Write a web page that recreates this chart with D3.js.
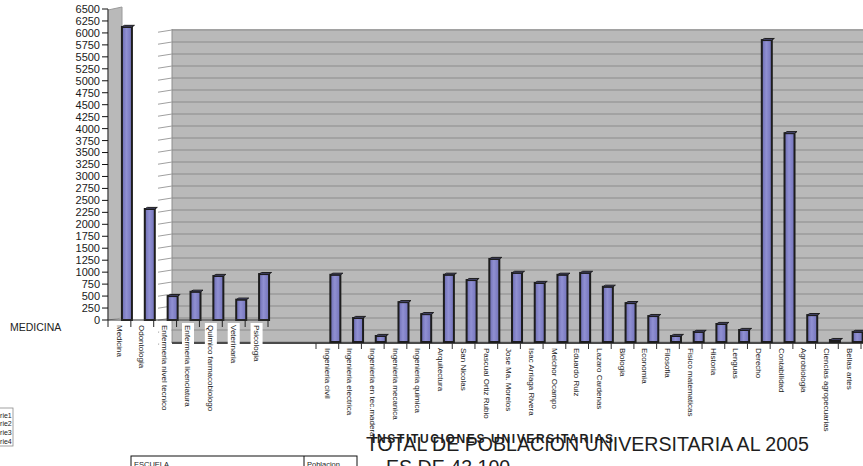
<!DOCTYPE html>
<html>
<head>
<meta charset="utf-8">
<script src="https://cdn.jsdelivr.net/npm/d3@7"></script>
<style>
  body { margin: 0; background: #fff; overflow: hidden; }
  svg { display: block; }
  text { font-family: "Liberation Sans", Arial, sans-serif; }
</style>
</head>
<body>
<svg id="chart" width="863" height="466"></svg>
<script>
// ---- data ----
const groupLabel = "MEDICINA";
const medCategories = ["Medicina", "Odontologia", "Enfermeria nivel tecnico", "Enfermeria licenciatura",
  "Quimico farmacobiologo", "Veterinaria", "Psicologia"];
const medValues = [6125, 2320, 500, 590, 920, 425, 960];

const uniCategories = ["Ingenieria civil", "Ingenieria electrica", "Ingenieria en tec.madera", "Ingenieria mecanica",
  "Ingenieria quimica", "Arquitectura", "San Nicolas", "Pascual Ortiz Rubio", "Jose Ma. Morelos",
  "Isac Arriaga Rivera", "Melchor Ocampo", "Eduardo Ruiz", "Lazaro Cardenas", "Biologia", "Economia",
  "Filosofia", "Fisico matematicas", "Historia", "Lenguas", "Derecho", "Contabilidad", "Agrobiologia",
  "Ciencias agropecuarias", "Bellas artes"];
const uniValues = [1400, 500, 125, 830, 580, 1400, 1290, 1730, 1440, 1230, 1400, 1440, 1150, 810, 540,
  125, 210, 375, 250, 6290, 4350, 560, 40, 210];

const valueTicks = [0, 250, 500, 750, 1000, 1250, 1500, 1750, 2000, 2250, 2500, 2750, 3000, 3250, 3500,
  3750, 4000, 4250, 4500, 4750, 5000, 5250, 5500, 5750, 6000, 6250, 6500];
const legendLabels = ["Serie1", "Serie2", "Serie3", "Serie4"];
const tableHeaders = ["ESCUELA", "Poblacion"];
const titleText = "TOTAL DE POBLACION UNIVERSITARIA AL 2005";
const overlayTitle = "INSTITUCIONES UNIVERSITARIAS";
const subtitleText = "ES DE 43,100";

// ---- setup ----
const svg = d3.select("#chart");
const yMed = d3.scaleLinear().domain([0, 6500]).range([320, 9]);
const yUni = d3.scaleLinear().domain([0, 6500]).range([342, 30]);
const xMed = d3.scaleBand().domain(medCategories).range([108, 268]);
const xUni = d3.scaleBand().domain(uniCategories).range([316, 861]);

const wallFill = "#b9b9b9";
const gridColor = "#8c8c8c";
const barStroke = "#1d1d1d";

const defs = svg.append("defs");
const grad = defs.append("linearGradient").attr("id", "barFill")
  .attr("x1", "0").attr("x2", "1").attr("y1", "0").attr("y2", "0");
grad.append("stop").attr("offset", "0%").attr("stop-color", "#6c6cb2");
grad.append("stop").attr("offset", "45%").attr("stop-color", "#9090d2");
grad.append("stop").attr("offset", "100%").attr("stop-color", "#7272ba");

// ---- back wall of the university chart ----
const wallTop = yUni(6500) - 1, wallBottom = yUni(0) + 1;
svg.append("rect")
  .attr("x", 172).attr("y", wallTop)
  .attr("width", 863 - 172).attr("height", wallBottom - wallTop)
  .attr("fill", wallFill);
svg.append("line").attr("x1", 172).attr("x2", 172).attr("y1", wallTop).attr("y2", wallBottom)
  .attr("stroke", "#8e8e8e");

const grid = svg.append("g");
grid.selectAll("line.h").data(valueTicks).join("line").attr("class", "h")
  .attr("x1", 172).attr("x2", 863)
  .attr("y1", d => yUni(d)).attr("y2", d => yUni(d))
  .attr("stroke", gridColor).attr("stroke-width", 1.2);
grid.selectAll("line.s").data(valueTicks).join("line").attr("class", "s")
  .attr("x1", 158).attr("x2", 172)
  .attr("y1", d => yUni(d) + 2.2).attr("y2", d => yUni(d))
  .attr("stroke", "#a0a0a0").attr("stroke-width", 1);

// floor edge and category ticks
svg.append("line").attr("x1", 172).attr("x2", 863).attr("y1", wallBottom).attr("y2", wallBottom)
  .attr("stroke", "#4a4a4a").attr("stroke-width", 2);
const uniBounds = uniCategories.map(c => xUni(c)).concat([xUni.range()[1]]);
svg.append("g").selectAll("line").data(uniBounds).join("line")
  .attr("x1", d => d).attr("x2", d => d)
  .attr("y1", wallBottom).attr("y2", wallBottom + 6)
  .attr("stroke", "#333");

// ---- bars ----
function drawBars(cats, vals, x, y, off, w) {
  const g = svg.append("g");
  const rows = cats.map((c, i) => ({ c, v: vals[i] }));
  const x0 = d => x(d.c) + x.bandwidth() / 2 + off - w / 2;
  g.selectAll("rect").data(rows).join("rect")
    .attr("x", x0)
    .attr("y", d => y(d.v))
    .attr("width", w)
    .attr("height", d => y(0) - y(d.v))
    .attr("fill", "url(#barFill)")
    .attr("stroke", barStroke).attr("stroke-width", 2);
  g.selectAll("polygon").data(rows).join("polygon")
    .attr("points", d => {
      const a = x0(d), b = a + w, t = y(d.v);
      return `${a},${t} ${a + 2.5},${t - 1.6} ${b + 2.5},${t - 1.6} ${b},${t}`;
    })
    .attr("fill", "#55558a").attr("stroke", barStroke).attr("stroke-width", 1);
}

drawBars(uniCategories, uniValues, xUni, yUni, 8, 10);

// university category labels
svg.append("g").selectAll("text").data(uniCategories).join("text")
  .attr("transform", d => `translate(${xUni(d) + xUni.bandwidth() / 2},348) rotate(90)`)
  .attr("dy", "0.35em")
  .attr("font-size", 8)
  .attr("fill", "#222")
  .text(d => d);

// ---- side wall of the medicine chart ----
svg.append("polygon")
  .attr("points", `108,${yMed(6500) + 1} 122,${yMed(6500) - 2} 122,${yMed(0) - 2} 108,${yMed(0)}`)
  .attr("fill", wallFill).attr("stroke", "#9a9a9a").attr("stroke-width", 1);

// value axis
const yAxis = svg.append("g");
yAxis.append("line").attr("x1", 108).attr("x2", 108).attr("y1", yMed(6500)).attr("y2", yMed(0))
  .attr("stroke", "#333");
yAxis.selectAll("line.t").data(valueTicks).join("line").attr("class", "t")
  .attr("x1", 102).attr("x2", 108)
  .attr("y1", d => yMed(d)).attr("y2", d => yMed(d))
  .attr("stroke", "#111");
yAxis.selectAll("text").data(valueTicks).join("text")
  .attr("x", 100).attr("y", d => yMed(d)).attr("dy", "0.36em")
  .attr("text-anchor", "end").attr("font-size", 11).attr("fill", "#1a1a1a")
  .text(d => d);

drawBars(medCategories, medValues, xMed, yMed, 7.5, 10);

// medicine category labels on white boxes
const medLabels = svg.append("g");
medCategories.forEach(c => {
  const cx = xMed(c) + xMed.bandwidth() / 2;
  const box = medLabels.append("rect").attr("fill", "#fff");
  const t = medLabels.append("text")
    .attr("transform", `translate(${cx},325) rotate(90)`)
    .attr("dy", "0.35em")
    .attr("font-size", 8)
    .attr("fill", "#222")
    .text(c);
  const len = t.node().getComputedTextLength();
  box.attr("x", cx - 6).attr("y", 323).attr("width", 12).attr("height", len + 5);
});

// medicine category axis
svg.append("line").attr("x1", 108).attr("x2", 268).attr("y1", yMed(0)).attr("y2", yMed(0))
  .attr("stroke", "#333").attr("stroke-width", 1.2);
const medBounds = medCategories.map(c => xMed(c)).concat([xMed.range()[1]]);
svg.append("g").selectAll("line").data(medBounds).join("line")
  .attr("x1", d => d).attr("x2", d => d)
  .attr("y1", yMed(0)).attr("y2", yMed(0) + 7)
  .attr("stroke", "#222");

svg.append("text").attr("x", 10).attr("y", 331)
  .attr("font-size", 10.5).attr("fill", "#222").text(groupLabel);

// ---- legend ----
svg.append("rect").attr("x", -45).attr("y", 408).attr("width", 58).attr("height", 38)
  .attr("fill", "#fff").attr("stroke", "#8a8a8a").attr("stroke-width", 0.8);
svg.append("g").selectAll("text").data(legendLabels).join("text")
  .attr("x", -8.5).attr("y", (d, i) => 417.5 + i * 8.7)
  .attr("font-size", 7).attr("fill", "#222")
  .text(d => d);

// ---- table header ----
svg.append("rect").attr("x", 131).attr("y", 456).attr("width", 226).attr("height", 40)
  .attr("fill", "none").attr("stroke", "#111");
svg.append("line").attr("x1", 304).attr("x2", 304).attr("y1", 456).attr("y2", 470).attr("stroke", "#111");
svg.append("text").attr("x", 134).attr("y", 466.5).attr("font-size", 7.5).attr("fill", "#222").text(tableHeaders[0]);
svg.append("text").attr("x", 307).attr("y", 466.5).attr("font-size", 7.5).attr("fill", "#222").text(tableHeaders[1]);

// ---- titles ----
svg.append("text").attr("x", 366).attr("y", 451)
  .attr("font-size", 19.6).attr("fill", "#1e1e1e").text(titleText);
svg.append("text").attr("x", 372).attr("y", 443)
  .attr("font-size", 12).attr("font-weight", "bold").attr("fill", "#1e1e1e")
  .attr("textLength", 241).attr("lengthAdjust", "spacing")
  .text(overlayTitle);
svg.append("text").attr("x", 386).attr("y", 474)
  .attr("font-size", 19.6).attr("fill", "#1e1e1e").text(subtitleText);
</script>
</body>
</html>
